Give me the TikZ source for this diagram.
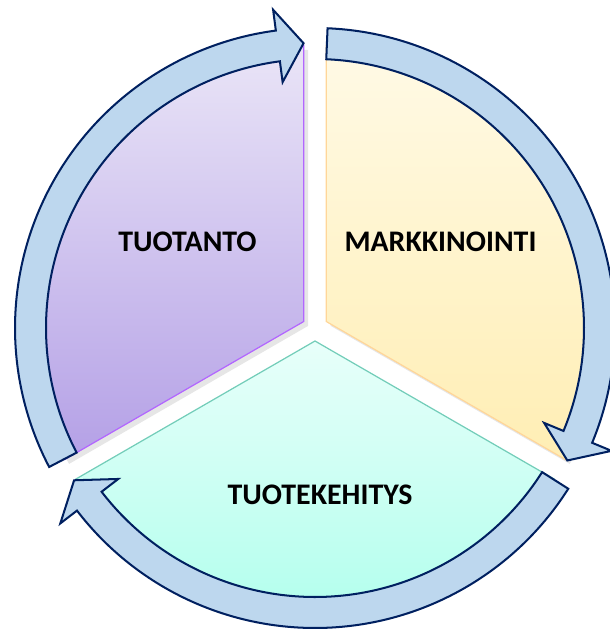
\documentclass[tikz,border=0pt]{standalone}
\usepackage{fontspec}
\setmainfont{Carlito}
\usetikzlibrary{shadows}
\definecolor{CycleArrowFill}{RGB}{189,215,238}
\definecolor{CycleArrowLine}{RGB}{0,32,96}
\definecolor{TuotantoTop}{RGB}{234,229,247}
\definecolor{TuotantoBottom}{RGB}{180,160,230}
\definecolor{TuotantoLine}{RGB}{178,102,255}
\definecolor{MarkkinaTop}{RGB}{255,250,230}
\definecolor{MarkkinaBottom}{RGB}{255,238,180}
\definecolor{MarkkinaLine}{RGB}{255,214,153}
\definecolor{KehitysTop}{RGB}{232,255,250}
\definecolor{KehitysBottom}{RGB}{170,255,235}
\definecolor{KehitysLine}{RGB}{115,205,185}

\begin{document}
\begin{tikzpicture}[x=0.02cm, y=0.02cm,
    segment/.style={line width=0.7pt, drop shadow={opacity=0.2, shadow xshift=2.5pt, shadow yshift=-2.5pt}},
    cyclearrow/.style={fill=CycleArrowFill, draw=CycleArrowLine, line width=1.15pt, line join=miter},
    segtext/.style={font=\bfseries\fontsize{17}{20}\selectfont}]
    \useasboundingbox (-315,-304) rectangle (294,328);

    % segments
    \path[segment, top color=TuotantoTop, bottom color=TuotantoBottom, draw=TuotantoLine]
        (150:13) -- ++(90:276) arc[start angle=90, end angle=210, radius=276] -- cycle;
    \path[segment, top color=MarkkinaTop, bottom color=MarkkinaBottom, draw=MarkkinaLine]
        (30:13) -- ++(90:276) arc[start angle=90, end angle=-30, radius=276] -- cycle;
    \path[segment, top color=KehitysTop, bottom color=KehitysBottom, draw=KehitysLine]
        (270:13) -- ++(-30:276) arc[start angle=-30, end angle=-150, radius=276] -- cycle;

    % arrows round the segments
    \foreach \r in {0,-120,-240} {
        \draw[cyclearrow, rotate=\r] (207.6:300) arc[start angle=207.6, end angle=97.5, radius=300]
            -- (97.5:321) -- (92.3:285) -- (97.5:248) -- (97.5:269)
            arc[start angle=97.5, end angle=207.6, radius=269] -- cycle;
    }

    \node[segtext] (tuotanto) at (-127.5,86.5) {TUOTANTO};
    \node[segtext] (markkinointi) at (125.5,86.5) {MARKKINOINTI};
    \node[segtext] (tuotekehitys) at (5,-166.5) {TUOTEKEHITYS};
\end{tikzpicture}
\end{document}
